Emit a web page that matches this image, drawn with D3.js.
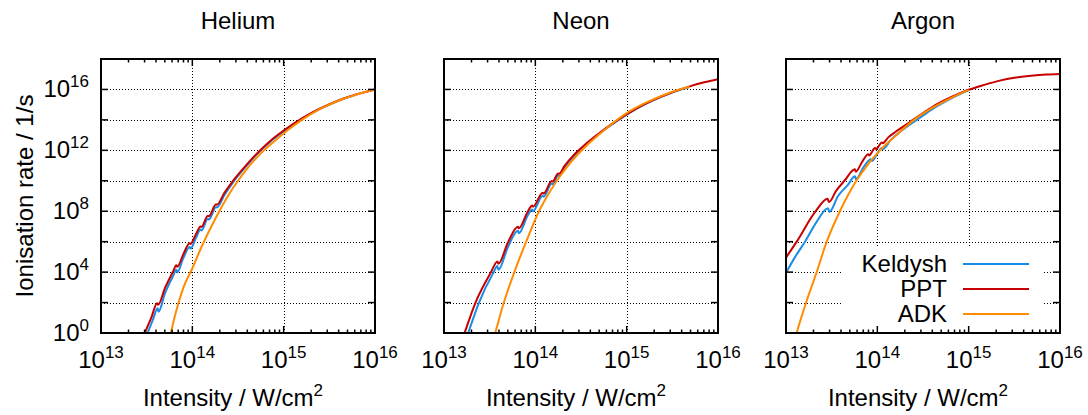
<!DOCTYPE html>
<html>
<head>
<meta charset="utf-8">
<script src="https://cdn.jsdelivr.net/npm/d3@7"></script>
<style>
  body { margin: 0; background: #fff; }
  text { font-family: "Liberation Sans", Arial, Helvetica, sans-serif; fill: #000; }
</style>
</head>
<body>
<svg id="chart" width="1088" height="415"></svg>
<script>

// values as [log10 intensity (W/cm2), log10 rate (1/s)]
const heliumKeldysh = [[13.47,-0.6],[13.51,0],[13.57,0.9],[13.62,1.62],[13.63,1.4],[13.70,2.6],[13.79,3.75],[13.825,4.15],[13.835,3.98],[13.90,4.9],[13.97,5.65],[13.98,5.55],[14.04,6.25],[14.09,6.8],[14.10,6.73],[14.17,7.5],[14.18,7.45],[14.26,8.28],[14.27,8.25],[14.35,9.05],[14.44,9.85],[14.55,10.68],[14.7,11.7],[14.85,12.55],[15.0,13.25],[15.2,14.07],[15.4,14.72],[15.6,15.25],[15.75,15.58]];
const heliumPPT = [[13.44,-0.6],[13.48,0],[13.55,1.0],[13.615,1.95],[13.625,1.85],[13.70,2.95],[13.79,4.05],[13.825,4.45],[13.835,4.35],[13.90,5.15],[13.97,5.9],[13.98,5.85],[14.04,6.5],[14.09,7.0],[14.10,6.97],[14.17,7.7],[14.18,7.67],[14.26,8.45],[14.27,8.43],[14.35,9.2],[14.44,9.95],[14.55,10.75],[14.7,11.75],[14.85,12.6],[15.0,13.3],[15.2,14.1],[15.4,14.75],[15.6,15.28],[15.8,15.68],[16.0,16.0]];
const heliumADK = [[13.74,-0.6],[13.765,0],[13.8,0.9],[13.85,2.0],[13.9,2.95],[14.0,4.25],[14.1,5.65],[14.2,6.9],[14.3,8.05],[14.4,9.1],[14.5,10.0],[14.6,10.8],[14.75,11.8],[14.9,12.6],[15.05,13.35],[15.2,14.0],[15.4,14.72],[15.6,15.26],[15.8,15.67],[16.0,16.0]];

const neonKeldysh = [[13.23,-0.6],[13.265,0],[13.38,1.95],[13.54,3.95],[13.585,4.4],[13.595,4.15],[13.70,5.65],[13.81,6.72],[13.82,6.55],[13.915,7.7],[13.965,8.12],[13.975,8.0],[14.08,9.02],[14.09,8.95],[14.18,9.82],[14.19,9.78],[14.25,10.35],[14.26,10.32],[14.32,10.88],[14.43,11.67],[14.56,12.4],[14.745,13.3],[14.93,14.07],[15.11,14.74],[15.29,15.28],[15.47,15.73],[15.69,16.15]];
const neonPPT = [[13.19,-0.6],[13.225,0],[13.345,2.0],[13.515,4.0],[13.585,4.7],[13.595,4.55],[13.70,5.95],[13.81,6.98],[13.82,6.88],[13.915,7.95],[13.965,8.38],[13.975,8.3],[14.08,9.22],[14.09,9.16],[14.18,9.98],[14.19,9.95],[14.25,10.48],[14.26,10.46],[14.32,10.98],[14.43,11.75],[14.56,12.46],[14.745,13.34],[14.93,14.1],[15.11,14.76],[15.29,15.3],[15.47,15.75],[15.69,16.2],[15.85,16.47],[16.0,16.67]];
const neonADK = [[13.53,-0.6],[13.56,0],[13.65,1.9],[13.77,4.0],[13.9,6.0],[14.04,8.0],[14.15,9.2],[14.27,10.3],[14.4,11.3],[14.55,12.25],[14.7,13.05],[14.85,13.8],[15.0,14.45],[15.2,15.1],[15.4,15.62],[15.55,15.95],[15.69,16.18]];

const argonKeldysh = [[13.0,3.95],[13.1,5.0],[13.208,6.0],[13.33,7.25],[13.46,8.2],[13.475,7.95],[13.57,9.0],[13.68,9.75],[13.755,10.3],[13.765,10.1],[13.85,10.9],[13.93,11.42],[13.94,11.3],[14.0,11.8],[14.05,12.15],[14.06,12.08],[14.15,12.7],[14.3,13.45],[14.46,14.12],[14.61,14.74],[14.8,15.38],[15.0,15.95]];
const argonPPT = [[13.0,4.95],[13.117,6.0],[13.325,8.0],[13.455,8.82],[13.47,8.6],[13.55,9.35],[13.64,10.0],[13.755,10.75],[13.765,10.6],[13.83,11.2],[13.9,11.75],[13.91,11.67],[13.975,12.15],[13.985,12.08],[14.05,12.52],[14.06,12.47],[14.12,12.85],[14.2,13.22],[14.3,13.62],[14.39,14.0],[14.5,14.45],[14.61,14.88],[14.8,15.47],[15.0,15.98],[15.17,16.3],[15.34,16.58],[15.5,16.77],[15.71,16.92],[15.85,16.98],[16.0,17.02]];
const argonADK = [[13.09,-0.6],[13.117,0],[13.22,2.0],[13.336,4.0],[13.446,6.0],[13.59,8.0],[13.77,10.0],[13.9,11.1],[14.03,12.0],[14.2,12.95],[14.39,13.95],[14.61,14.82],[14.8,15.42],[15.0,15.97]];

const panelTitles = ["Helium", "Neon", "Argon"];
const seriesNames = ["Keldysh", "PPT", "ADK"];
const seriesColors = ["#1a8ce6", "#c80000", "#ff8c00"];
const panelSeries = [
  [heliumKeldysh, heliumPPT, heliumADK],
  [neonKeldysh, neonPPT, neonADK],
  [argonKeldysh, argonPPT, argonADK]
];

const xTickExps = [13, 14, 15, 16];
const yTickExps = [2, 4, 6, 8, 10, 12, 14, 16];
const yLabelExps = [0, 4, 8, 12, 16];

const panelLefts = [101, 444, 786];
const plotTop = 59;
const width = 274;
const height = 274;

let svg = d3.select("#chart");

let x = d3.scaleLog().domain([1e13, 1e16]).range([0, width]);
let y = d3.scaleLog().domain([1, 1e18]).range([height, 0]);

let lineGen = d3.line()
  .x(function (d) { return x(Math.pow(10, d[0])); })
  .y(function (d) { return y(Math.pow(10, d[1])); })
  .curve(d3.curveMonotoneX);

// minor x ticks 2..9 x 10^n
let minorX = [];
for (let e = 13; e < 16; e++) {
  for (let k = 2; k <= 9; k++) minorX.push(k * Math.pow(10, e));
}

for (let p = 0; p < 3; p++) {
  let g = svg.append("g")
    .attr("transform", "translate(" + panelLefts[p] + "," + plotTop + ")");

  svg.append("defs").append("clipPath")
    .attr("id", "clip" + p)
    .append("rect")
    .attr("width", width)
    .attr("height", height);

  // grid
  g.selectAll(".hgrid")
    .data(yTickExps)
    .enter()
    .append("line")
    .attr("x1", 0).attr("x2", width)
    .attr("y1", function (d) { return Math.round(y(Math.pow(10, d))) + 0.5; })
    .attr("y2", function (d) { return Math.round(y(Math.pow(10, d))) + 0.5; })
    .attr("stroke", "#000")
    .attr("stroke-width", 1)
    .attr("stroke-dasharray", "1,2");

  g.selectAll(".vgrid")
    .data([1e14, 1e15])
    .enter()
    .append("line")
    .attr("x1", function (d) { return Math.round(x(d)) + 0.5; })
    .attr("x2", function (d) { return Math.round(x(d)) + 0.5; })
    .attr("y1", 0).attr("y2", height)
    .attr("stroke", "#000")
    .attr("stroke-width", 1)
    .attr("stroke-dasharray", "1,2");

  // legend background (Argon only)
  if (p == 2) {
    g.append("rect")
      .attr("x", 57).attr("y", 188)
      .attr("width", 200).attr("height", 86)
      .attr("fill", "#fff");
  }

  // curves
  let curves = g.append("g").attr("clip-path", "url(#clip" + p + ")");
  for (let s = 0; s < 3; s++) {
    curves.append("path")
      .datum(panelSeries[p][s])
      .attr("fill", "none")
      .attr("stroke", seriesColors[s])
      .attr("stroke-width", 2)
      .attr("stroke-linejoin", "round")
      .attr("d", lineGen);
  }

  // frame
  g.append("rect")
    .attr("width", width).attr("height", height)
    .attr("fill", "none")
    .attr("stroke", "#000")
    .attr("stroke-width", 2);

  // x ticks, bottom and top
  let ticks = g.append("g").attr("stroke", "#000").attr("stroke-width", 1.5);
  [1e14, 1e15].forEach(function (v) {
    let px = x(v);
    ticks.append("line").attr("x1", px).attr("x2", px).attr("y1", height).attr("y2", height - 7);
    ticks.append("line").attr("x1", px).attr("x2", px).attr("y1", 0).attr("y2", 7);
  });
  minorX.forEach(function (v) {
    let px = x(v);
    ticks.append("line").attr("x1", px).attr("x2", px).attr("y1", height).attr("y2", height - 3.5);
    ticks.append("line").attr("x1", px).attr("x2", px).attr("y1", 0).attr("y2", 3.5);
  });
  // y ticks, left and right
  yTickExps.forEach(function (e) {
    let py = y(Math.pow(10, e));
    ticks.append("line").attr("x1", 0).attr("x2", 7).attr("y1", py).attr("y2", py);
    ticks.append("line").attr("x1", width).attr("x2", width - 7).attr("y1", py).attr("y2", py);
  });

  // x tick labels
  xTickExps.forEach(function (e) {
    let t = g.append("text")
      .attr("x", x(Math.pow(10, e)))
      .attr("y", height + 35)
      .attr("text-anchor", "middle")
      .style("font-size", "24px");
    t.append("tspan").text("10");
    t.append("tspan").attr("dy", -10).style("font-size", "17px").text(e);
  });

  // title
  g.append("text")
    .attr("x", width / 2)
    .attr("y", -30)
    .attr("text-anchor", "middle")
    .style("font-size", "24px")
    .text(panelTitles[p]);

  // x axis label
  let xl = g.append("text")
    .attr("x", width / 2 - 5)
    .attr("y", height + 73)
    .attr("text-anchor", "middle")
    .style("font-size", "24px");
  xl.append("tspan").text("Intensity / W/cm");
  xl.append("tspan").attr("dy", -10).style("font-size", "17px").text("2");

  if (p == 0) {
    yLabelExps.forEach(function (e) {
      let t = g.append("text")
        .attr("x", -12)
        .attr("y", y(Math.pow(10, e)) + 8)
        .attr("text-anchor", "end")
        .style("font-size", "24px");
      t.append("tspan").text("10");
      t.append("tspan").attr("dy", -10).style("font-size", "17px").text(e);
    });

    g.append("text")
      .attr("transform", "translate(" + (33 - panelLefts[0]) + "," + (height / 2) + ") rotate(-90)")
      .attr("text-anchor", "middle")
      .style("font-size", "24px")
      .text("Ionisation rate / 1/s");
  }

  if (p == 2) {
    let rowY = [205, 230, 255];
    for (let s = 0; s < 3; s++) {
      g.append("text")
        .attr("x", 161)
        .attr("y", rowY[s] + 8)
        .attr("text-anchor", "end")
        .style("font-size", "24px")
        .text(seriesNames[s]);
      g.append("line")
        .attr("x1", 177).attr("x2", 243)
        .attr("y1", rowY[s]).attr("y2", rowY[s])
        .attr("stroke", seriesColors[s])
        .attr("stroke-width", 2);
    }
  }
}

</script>
</body>
</html>
